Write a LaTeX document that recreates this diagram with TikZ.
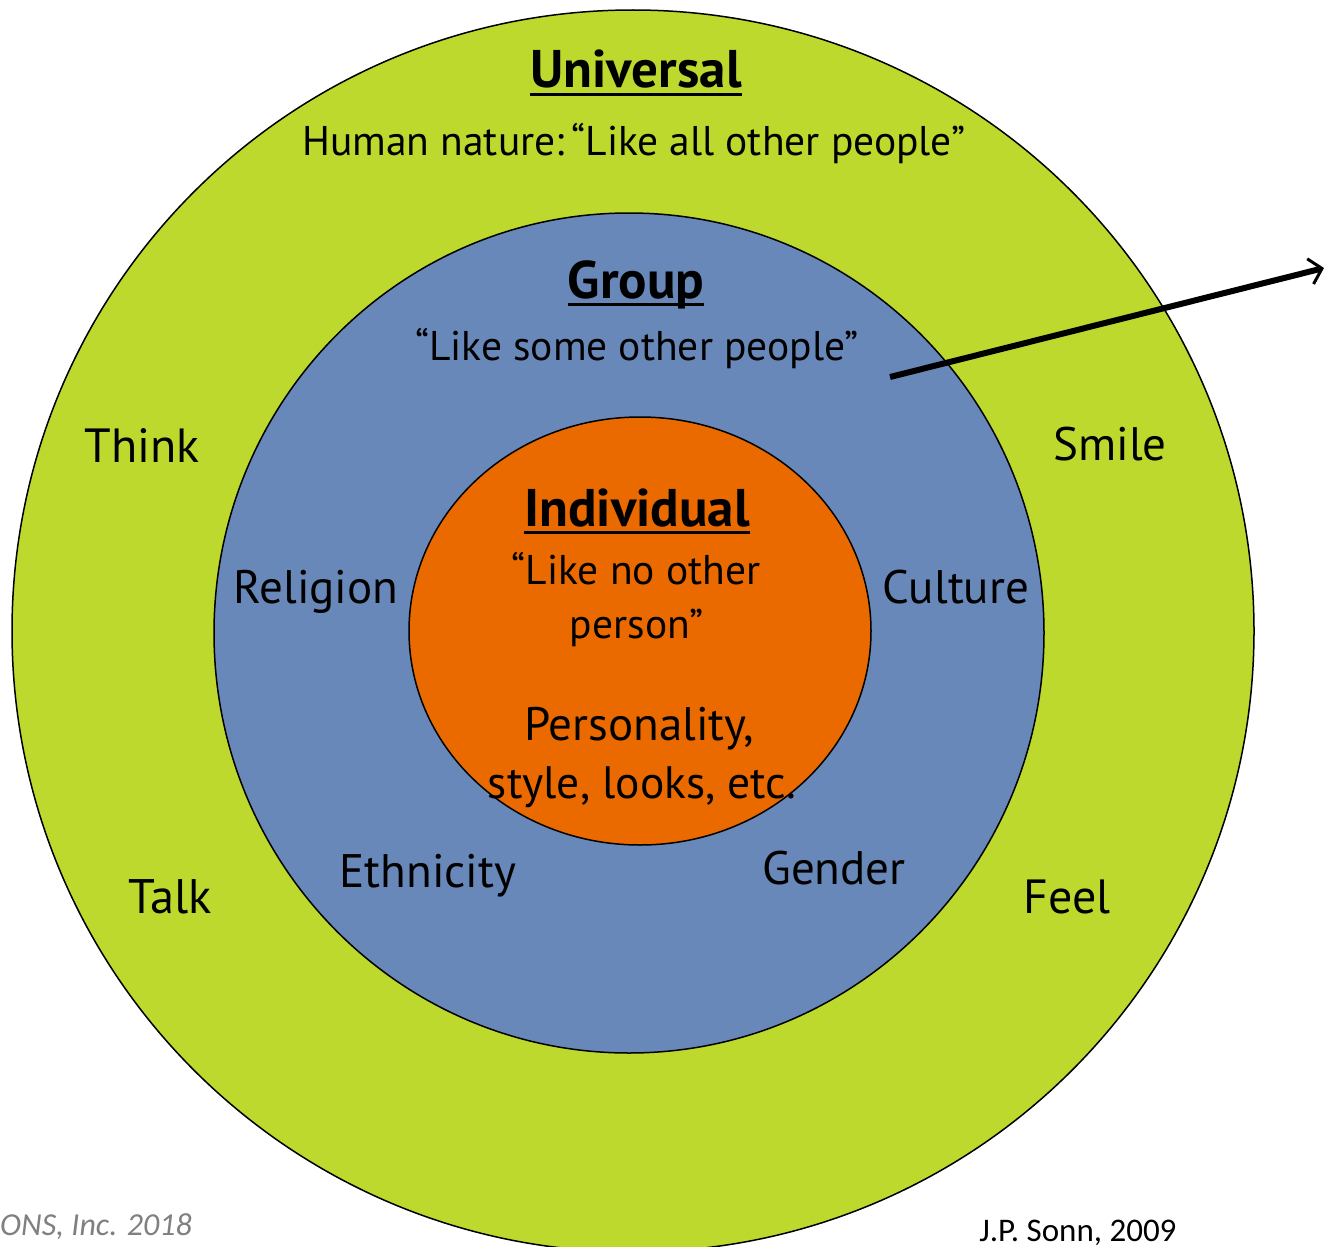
\documentclass[tikz,border=0pt]{standalone}
\usepackage{fontspec}
\setmainfont{PT Sans}
\newfontfamily\footfont{Carlito}
\usetikzlibrary{arrows.meta}
\definecolor{ringgreen}{RGB}{190,217,46}
\definecolor{ringblue}{RGB}{104,136,185}
\definecolor{ringorange}{RGB}{235,106,0}
\definecolor{footgray}{RGB}{128,128,128}
\tikzset{
  ring/.style={draw=black, line width=1.5pt},
  lbl/.style={anchor=base, inner sep=0pt, font=\fontsize{47}{52}\selectfont},
  qlbl/.style={anchor=base, inner sep=0pt, font=\fontsize{41.5}{48}\selectfont},
  ttl/.style={anchor=base, inner sep=0pt, font=\fontsize{53}{60}\selectfont\bfseries},
  uline/.style={line width=3pt},
}
\begin{document}
\begin{tikzpicture}[x=1pt,y=-1pt]
\useasboundingbox[fill=white] (0,0) rectangle (1328,1247);
% rings
\fill[ring, fill=ringgreen] (633,631) ellipse [x radius=621, y radius=621];
\fill[ring, fill=ringblue] (629,633) ellipse [x radius=415, y radius=420];
\fill[ring, fill=ringorange] (640,631) ellipse [x radius=231, y radius=214];
% titles
\node[ttl] (univ) at (636,88) {Universal};
\draw[uline] ([yshift=-6pt]univ.base west) -- ([yshift=-6pt]univ.base east);
\node[qlbl] (human) at (634,155) {Human nature:\,“Like all other people”};
\node[ttl] (group) at (636,298) {Group};
\draw[uline] ([yshift=-6pt]group.base west) -- ([yshift=-6pt]group.base east);
\node[qlbl] (some) at (637,360) {“Like some other people”};
\node[ttl] (indiv) at (637,526) {Individual};
\draw[uline] ([yshift=-6pt]indiv.base west) -- ([yshift=-6pt]indiv.base east);
\node[qlbl] (noother) at (636,584) {“Like no other};
\node[qlbl] (person) at (637,638) {person”};
\node[lbl] (pers) at (639,740) {Personality,};
\node[lbl, font=\fontsize{45.5}{52}\selectfont] (style) at (642,798) {style, looks, etc.};
% group labels
\node[lbl] (relig) at (316,603) {Religion};
\node[lbl] (cult) at (956,603) {Culture};
\node[lbl] (ethn) at (428,887) {Ethnicity};
\node[lbl] (gend) at (834,884) {Gender};
% universal labels
\node[lbl, font=\fontsize{48}{52}\selectfont] (think) at (142,462) {Think};
\node[lbl] (smile) at (1110,460) {Smile};
\node[lbl, font=\fontsize{48.5}{52}\selectfont] (talk) at (170,913) {Talk};
\node[lbl, font=\fontsize{48}{52}\selectfont] (feel) at (1067,913) {Feel};
% footers
\node[anchor=base west, inner sep=0pt, font=\footfont\itshape\fontsize{32}{36}\selectfont, text=footgray] (ons) at (0,1235) {ONS, Inc. 2018};
\node[anchor=base, inner sep=0pt, font=\footfont\fontsize{33}{36}\selectfont] (sonn) at (1078,1241) {J.P. Sonn, 2009};
% arrow
\coordinate (astart) at (890,377);
\coordinate (aend) at (1324,268);
\draw[line width=6pt, -{Straight Barb[length=12pt, width=26pt, line width=3pt]}] (astart) -- (aend);
\end{tikzpicture}
\end{document}
